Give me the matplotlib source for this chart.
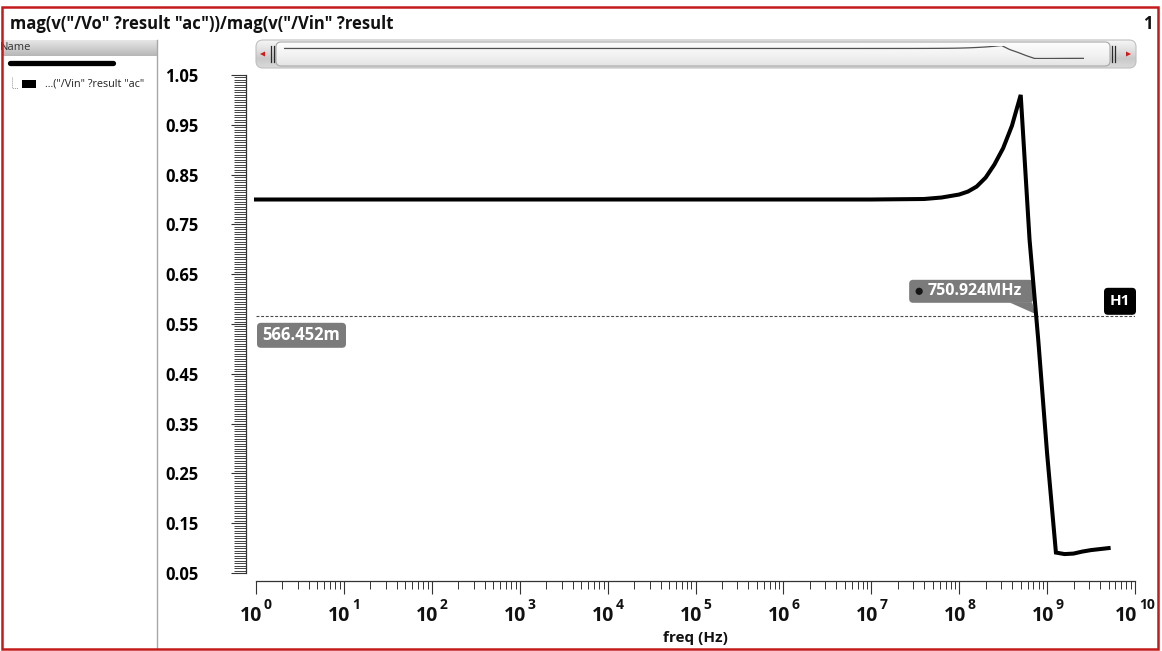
import numpy as np
import matplotlib
matplotlib.use("Agg")
import matplotlib.pyplot as plt
from matplotlib.patches import FancyBboxPatch, Rectangle, Polygon, Circle
from matplotlib.colors import LinearSegmentedColormap
from matplotlib.ticker import FixedLocator, MultipleLocator, FuncFormatter, NullFormatter

plt.rcParams["font.family"] = ["Open Sans", "DejaVu Sans"]

# ---- data: AC transfer magnitude |Vo/Vin| ----
freq_hz = [1e0, 1e1, 1e2, 1e3, 1e4, 1e5, 1e6, 1e7,
           3.98e7, 6.31e7, 1.00e8, 1.26e8, 1.58e8, 2.00e8, 2.51e8, 3.16e8,
           3.98e8, 5.01e8, 6.31e8, 7.94e8, 1.00e9, 1.26e9, 1.58e9, 2.00e9,
           2.51e9, 3.16e9, 3.98e9, 5.01e9]
gain = [0.800, 0.800, 0.800, 0.800, 0.800, 0.800, 0.800, 0.800,
        0.801, 0.804, 0.810, 0.816, 0.826, 0.844, 0.870, 0.903,
        0.948, 1.010, 0.720, 0.517, 0.290, 0.091, 0.088, 0.089,
        0.093, 0.096, 0.098, 0.100]

h1_level = 0.566452          # horizontal marker H1
cross_freq = 750.924e6       # where the trace crosses H1

y_labels = [0.05, 0.15, 0.25, 0.35, 0.45, 0.55, 0.65, 0.75, 0.85, 0.95, 1.05]
x_decades = list(range(0, 11))

title_text = 'mag(v("/Vo" ?result "ac"))/mag(v("/Vin" ?result'
legend_text = '...("/Vin" ?result "ac"'

W, H, DPI = 1162, 651, 100
fig = plt.figure(figsize=(W / DPI, H / DPI), dpi=DPI, facecolor="white")

# pixel-space layer for the window chrome
deco = fig.add_axes([0, 0, 1, 1], zorder=0)
deco.set_axis_off()


def grad_box(x, y, w, h, colors, r=0.0, edge="none", lw=0.8, z=1):
    patch = FancyBboxPatch((x, y), w, h,
                           boxstyle=f"round,pad=0,rounding_size={r}",
                           facecolor="none", edgecolor=edge, linewidth=lw, zorder=z + 0.1)
    deco.add_patch(patch)
    cmap = LinearSegmentedColormap.from_list("g", colors)
    img = deco.imshow(np.linspace(0, 1, 64)[:, None], cmap=cmap,
                      extent=(x, x + w, y + h, y), aspect="auto",
                      interpolation="bilinear", zorder=z)
    img.set_clip_path(patch)
    return patch


# title and page number
deco.text(10, 24, title_text, fontsize=12, fontweight="bold", va="center", ha="left",
          color="#111111")
deco.text(1148, 24, "1", fontsize=12, fontweight="bold", va="center", ha="center",
          color="#111111")

# left trace browser
grad_box(3, 40, 154, 16, ["#e6e6e6", "#cfcfcf", "#b6b6b6"], z=1)
deco.text(0, 48, "Name", fontsize=8, color="#333333", va="center", ha="left", zorder=2)
deco.plot([157, 157], [40, 648], color="#a8a8a8", lw=1.0, zorder=2)
deco.plot([10, 113], [63, 63], color="black", lw=3.8, solid_capstyle="round", zorder=2)
deco.plot([12, 12, 18], [77, 88, 88], color="#9a9a9a", lw=0.7, ls=(0, (1, 1)), zorder=2)
deco.add_patch(Rectangle((22, 80), 14, 8, facecolor="black", edgecolor="none", zorder=2))
deco.text(45, 84, legend_text, fontsize=7.8, color="#222222", va="center", ha="left", zorder=2)

# overview scroller above the plot
grad_box(256, 40, 880, 28, ["#f6f6f6", "#e2e2e2", "#c9c9c9", "#dadada"], r=7,
         edge="#c0c0c0", z=1)
grad_box(276, 42, 834, 24, ["#fdfdfd", "#f3f3f3", "#e4e4e4"], r=5,
         edge="#a9a9a9", lw=0.8, z=2)
deco.add_patch(Polygon([(260, 54), (265, 51.5), (265, 56.5)], closed=True,
                       facecolor="#d01818", edgecolor="none", zorder=3))
deco.add_patch(Polygon([(1131, 54), (1126, 51.5), (1126, 56.5)], closed=True,
                       facecolor="#d01818", edgecolor="none", zorder=3))
for hx in (271, 274, 1112, 1115):
    deco.plot([hx, hx], [46, 62], color="#2a2a2a", lw=0.9, zorder=3)

# frame
deco.add_patch(Rectangle((2, 7), 1156, 642, fill=False, edgecolor="#c41a1a",
                         linewidth=1.8, zorder=5))
deco.set_xlim(0, W)
deco.set_ylim(H, 0)

# ---- main plot ----
left, right, top, bottom = 256, 1135, 75, 573
ax = fig.add_axes([left / W, 1 - bottom / H, (right - left) / W, (bottom - top) / H], zorder=2)
ax.patch.set_alpha(0)
ax.set_xscale("log")
ax.set_xlim(1, 1e10)
ax.set_ylim(0.05, 1.05)

ax.plot(freq_hz, gain, color="black", lw=2.9, solid_joinstyle="miter", zorder=3,
        clip_on=False)
ax.axhline(h1_level, color="#4a4a4a", lw=0.8, ls=(0, (2.6, 1.6)), zorder=2)

for s in ("top", "right"):
    ax.spines[s].set_visible(False)
ax.spines["left"].set_position(("outward", 7.2))
ax.spines["bottom"].set_position(("outward", 5.8))
for s in ("left", "bottom"):
    ax.spines[s].set_color("#333333")
    ax.spines[s].set_linewidth(0.9)

ax.yaxis.set_major_locator(FixedLocator(y_labels))
ax.yaxis.set_minor_locator(MultipleLocator(0.005))
ax.yaxis.set_major_formatter(FuncFormatter(lambda v, p: f"{v:.2f}"))
ax.tick_params(axis="y", which="major", length=11, width=0.8, color="#333333",
               pad=23, labelsize=12)
ax.tick_params(axis="y", which="minor", length=8.5, width=0.7, color="#444444")
for lbl in ax.get_yticklabels():
    lbl.set_fontweight("bold")

# decade ticks; labels are written as "10" with a raised exponent
ax.xaxis.set_major_locator(FixedLocator([10.0 ** d for d in x_decades]))
ax.xaxis.set_minor_locator(FixedLocator([m * 10.0 ** d for d in x_decades[:-1]
                                         for m in range(2, 10)]))
ax.xaxis.set_minor_formatter(NullFormatter())
ax.tick_params(axis="x", which="major", length=9, width=0.8, color="#333333",
               labelbottom=False)
ax.tick_params(axis="x", which="minor", length=6, width=0.7, color="#333333")

xfm = ax.get_xaxis_transform()
base_w = 22.0
for d in x_decades:
    exp = str(d)
    exp_w = 8.0 * len(exp)
    shift = -(1 + exp_w) / 2
    ax.annotate("10", xy=(10.0 ** d, 0), xycoords=xfm, xytext=(shift, -48),
                textcoords="offset pixels", ha="center", va="baseline",
                fontsize=14, fontweight="bold", color="#111111", annotation_clip=False)
    ax.annotate(exp, xy=(10.0 ** d, 0), xycoords=xfm,
                xytext=(shift + base_w / 2 + 1.5, -36), textcoords="offset pixels",
                ha="left", va="baseline", fontsize=10, fontweight="bold",
                color="#111111", annotation_clip=False)

ax.set_xlabel("freq (Hz)", fontsize=11, fontweight="bold", color="#111111")
ax.xaxis.set_label_coords(0.5, -0.116)
ax.xaxis.label.set_va("top")

# ---- marker labels, placed from the data through the axes transform ----
px, py = ax.transData.transform((cross_freq, h1_level))
X, Y = px, H - py
x0 = ax.transData.transform((1, h1_level))[0]

deco.add_patch(FancyBboxPatch((X - 127, Y - 36), 124, 23, boxstyle="round,pad=0,rounding_size=4",
                              facecolor="#7b7b7b", edgecolor="none", zorder=6))
deco.add_patch(Polygon([(X - 27, Y - 13.5), (X - 4, Y - 13.5), (X - 1, Y - 2)], closed=True,
                       facecolor="#7b7b7b", edgecolor="none", zorder=6))
deco.add_patch(Circle((X - 117, Y - 24.5), 3.6, facecolor="#151515", edgecolor="none", zorder=7))
deco.text(X - 109, Y - 24.5, f"{cross_freq / 1e6:.3f}MHz", fontsize=11.5, fontweight="bold",
          color="white", va="center", ha="left", zorder=7)

deco.add_patch(FancyBboxPatch((x0 + 1, Y + 7), 89, 25, boxstyle="round,pad=0,rounding_size=4",
                              facecolor="#7b7b7b", edgecolor="none", zorder=6))
deco.text(x0 + 45.5, Y + 19.5, f"{h1_level * 1000:.3f}m", fontsize=12, fontweight="bold",
          color="white", va="center", ha="center", zorder=7)

deco.add_patch(FancyBboxPatch((1104, Y - 28), 32, 27, boxstyle="round,pad=0,rounding_size=4",
                              facecolor="black", edgecolor="none", zorder=6))
deco.text(1120, Y - 14.5, "H1", fontsize=11, fontweight="bold", color="white",
          va="center", ha="center", zorder=7)

# overview trace inside the scroller
mini = fig.add_axes([284 / W, 1 - 58.5 / H, 800 / W, 13 / H], zorder=3)
mini.set_axis_off()
mini.set_xscale("log")
mini.plot(freq_hz, gain, color="#505050", lw=0.9)
mini.set_xlim(freq_hz[0], freq_hz[-1])
mini.set_ylim(min(gain), max(gain))

deco.set_xlim(0, W)
deco.set_ylim(H, 0)

fig.savefig("out.png", dpi=DPI, facecolor="white")
